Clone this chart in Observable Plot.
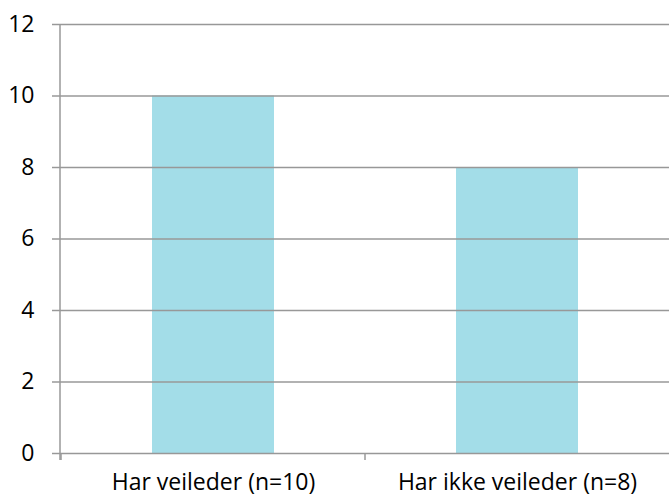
<!DOCTYPE html>
<html>
<head>
<meta charset="utf-8">
<script src="https://cdn.jsdelivr.net/npm/d3@7"></script>
<script src="https://cdn.jsdelivr.net/npm/@observablehq/plot@0.6"></script>
<style>
  html, body { margin: 0; padding: 0; background: #fff; }
  svg { display: block; }
</style>
</head>
<body>
<div id="chart"></div>
<script>
const categories = ["Har veileder (n=10)", "Har ikke veileder (n=8)"];
const values = [10, 8];
const yTicks = [0, 2, 4, 6, 8, 10, 12];

const data = categories.map((c, i) => ({category: c, value: values[i]}));
const gridColor = "#989898";
const font = "'Open Sans', sans-serif";

// y-axis line and category boundary ticks (Excel style)
function axisLines(index, scales, values, dimensions) {
  const x = scales.x;
  const y = scales.y;
  const dom = x.domain();
  const step = typeof x.step === "function" ? x.step() : (dimensions.width - dimensions.marginLeft - dimensions.marginRight) / dom.length;
  const bw = typeof x.bandwidth === "function" ? x.bandwidth() : step * 0.4;
  const y0 = y(0);
  const yTop = y(d3.max(yTicks));
  const xLeft = dimensions.marginLeft;
  const g = d3.create("svg:g").attr("stroke", gridColor).attr("stroke-width", 1.5);
  g.append("line").attr("x1", xLeft).attr("x2", xLeft).attr("y1", yTop).attr("y2", y0 + 7);
  dom.forEach(d => {
    const px = x(d) + bw / 2 - step / 2;
    g.append("line").attr("x1", px).attr("x2", px).attr("y1", y0).attr("y2", y0 + 7);
  });
  return g.node();
}

const plot = Plot.plot({
  width: 669,
  height: 499,
  marginLeft: 60,
  marginRight: 0,
  marginTop: 24,
  marginBottom: 46,
  style: {fontFamily: font, fontSize: "23px", color: "#000", background: "#fff"},
  x: {domain: categories, paddingInner: 0.6, paddingOuter: 0.3, label: null},
  y: {domain: [0, 12], label: null},
  marks: [
    Plot.barY(data, {x: "category", y: "value", fill: "#A3DDE8"}),
    Plot.ruleY(yTicks, {stroke: gridColor, strokeWidth: 1.5, strokeOpacity: 1}),
    Plot.axisY({ticks: yTicks, tickSize: 8, tickPadding: 18, stroke: gridColor, strokeWidth: 1.5, strokeOpacity: 1, fontSize: 23, fill: "#000", label: null}),
    Plot.axisX({tickSize: 0, tickPadding: 20, fontSize: 23, fill: "#000", label: null}),
    axisLines
  ]
});
document.getElementById("chart").appendChild(plot);
</script>
</body>
</html>
